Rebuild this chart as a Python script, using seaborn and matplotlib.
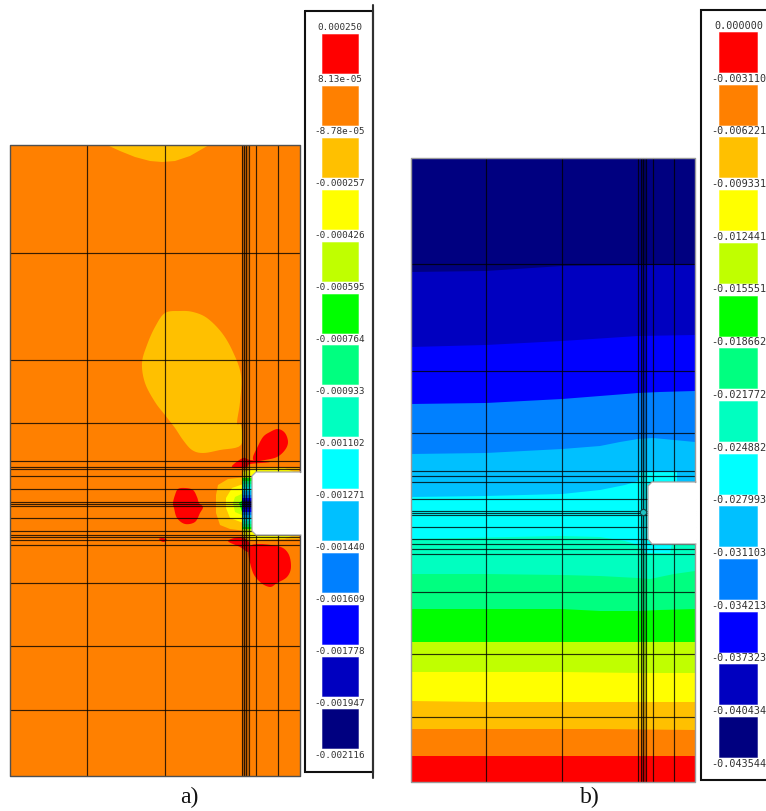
import numpy as np
import pandas as pd
import matplotlib
matplotlib.use("Agg")
import matplotlib.pyplot as plt
import seaborn as sns

# ---------- colour scale (shared by both plots, top of the legend first)
band_colors = ["#ff0000", "#ff8000", "#ffc000", "#ffff00", "#c0ff00", "#00ff00", "#00ff80",
               "#00ffc0", "#00ffff", "#00c0ff", "#0080ff", "#0000ff", "#0000c0", "#000080"]
RED, ORANGE, AMBER, YELLOW, LIME, GREEN, SPRING, AQUA, CYAN, SKY, AZURE, BLUE, DBLUE, NAVY = band_colors

labels_a = ["0.000250", "8.13e-05", "-8.78e-05", "-0.000257", "-0.000426", "-0.000595", "-0.000764",
            "-0.000933", "-0.001102", "-0.001271", "-0.001440", "-0.001609", "-0.001778", "-0.001947",
            "-0.002116"]
labels_b = ["0.000000", "-0.003110", "-0.006221", "-0.009331", "-0.012441", "-0.015551", "-0.018662",
            "-0.021772", "-0.024882", "-0.027993", "-0.031103", "-0.034213", "-0.037323", "-0.040434",
            "-0.043544"]

# ---------- mesh lines (drawing units = reference pixels)
mesh_x_a = [87, 165, 242, 244, 246, 249, 256, 278]
mesh_y_a = [253, 360, 423, 461, 467, 469, 476, 489, 502, 504, 506, 518, 531, 535, 537, 540, 545, 583, 646, 710]
mesh_x_b = [486, 562, 638, 641, 643, 646, 653, 674]
mesh_y_b = [264, 371, 433, 471, 476, 482, 499, 511, 513, 515, 527, 539, 544, 549, 554, 592, 654, 717]

# ---------- plot a: contour regions, as outlines
top_lobe = [(107, 145), (120, 151), (135, 157), (150, 161), (162, 162), (175, 161), (190, 156), (209, 145)]
mid_lobe = [(180, 311), (165, 313), (155, 327), (147, 345), (142, 363), (145, 383), (155, 402), (165, 415),
            (175, 428), (183, 440), (192, 450), (203, 453), (220, 450), (241, 445), (241, 425), (237, 423),
            (240, 402), (241, 375), (233, 352), (222, 333), (207, 318), (193, 312)]
red_regions = [
    [(278, 429), (285, 433), (288, 442), (285, 450), (277, 457), (265, 460), (255, 461), (253, 457),
     (257, 448), (263, 437), (270, 432)],
    [(232, 466), (243, 458), (250, 460), (270, 462), (250, 464), (247, 467), (237, 468)],
    [(250, 546), (277, 546), (288, 553), (291, 567), (287, 577), (277, 583), (270, 587), (260, 582), (252, 570)],
    [(228, 541), (240, 537), (248, 541), (250, 546), (248, 552), (240, 547)],
    [(185, 488), (193, 490), (197, 497), (199, 503), (203, 507), (200, 513), (195, 522), (185, 524),
     (177, 518), (174, 508), (173, 503), (175, 495), (178, 489)],
    [(159, 539), (163, 538), (167, 540), (163, 542)],
]
notch_amber = [(246, 477), (228, 479), (218, 485), (216, 495), (216, 513), (220, 525), (230, 529), (246, 531)]
notch_yellow = [(246, 483), (232, 488), (226, 498), (226, 508), (230, 518), (246, 524)]
notch_lime = [(246, 492), (235, 497), (233, 503), (235, 512), (246, 517)]
notch_green = [(246, 497), (239, 503), (242, 512), (246, 512)]
edge_amber = [[(248, 467), (262, 467), (299, 468), (299, 472), (252, 478), (243, 478), (243, 470)],
              [(243, 530), (252, 530), (258, 535), (299, 535), (299, 539), (262, 540), (248, 540), (243, 537)]]
edge_yellow = [[(243, 472), (256, 469), (285, 468.5), (294, 472), (256, 473), (252, 478), (243, 478)],
               [(243, 530), (252, 530), (256, 535), (294, 535), (285, 538.5), (256, 539), (243, 536)]]

strip_edges_a = [476, 478, 481, 484, 487, 491, 495, 498, 500, 501, 507, 509, 512, 515, 518, 521, 524, 527, 529, 532]
strip_colors_a = [LIME, GREEN, SPRING, AQUA, CYAN, SKY, AZURE, BLUE, DBLUE, NAVY, DBLUE, BLUE, AZURE, SKY, CYAN,
                  AQUA, SPRING, GREEN, LIME]

# ---------- plot b: band boundaries from the top downward
bands_b = [
    (DBLUE, [(411, 272), (486, 271), (562, 266), (638, 265), (695, 265)]),
    (BLUE, [(411, 347), (486, 345), (562, 341), (638, 336), (695, 335)]),
    (AZURE, [(411, 404), (486, 403), (562, 399), (638, 393), (660, 392), (695, 391)]),
    (SKY, [(411, 454), (486, 453), (562, 449), (600, 446), (620, 442), (638, 439), (653, 438), (674, 440), (695, 442)]),
    (CYAN, [(411, 497), (486, 496), (562, 494), (600, 490), (625, 485), (638, 481), (640, 472), (677, 472),
            (677, 482), (695, 482)]),
    (AQUA, [(411, 539), (486, 537.5), (562, 536), (600, 537), (625, 541), (638, 545), (645, 553), (670, 553),
            (672, 544), (695, 544)]),
    (SPRING, [(411, 574), (486, 574), (562, 575), (600, 576), (638, 578), (650, 579), (674, 574), (695, 571)]),
    (GREEN, [(411, 609), (486, 609), (562, 609), (600, 611), (638, 611), (660, 610), (695, 609)]),
    (LIME, [(411, 642), (695, 642)]),
    (YELLOW, [(411, 672), (562, 672), (638, 673), (695, 673)]),
    (AMBER, [(411, 701), (486, 702), (695, 702)]),
    (ORANGE, [(411, 729), (600, 729), (695, 730)]),
    (RED, [(411, 756), (695, 756)]),
]

# ---------- panel geometry
outer_a = [(300, 472), (300, 145), (10, 145), (10, 776), (300, 776), (300, 535)]
notch_a = [(301, 472), (256, 472), (252, 476), (252, 531), (256, 535), (301, 535)]
outer_b = [(695, 482), (695, 158), (411, 158), (411, 782), (695, 782), (695, 544)]
notch_b = [(696, 482), (652, 482), (648, 486), (648, 539), (652, 544), (696, 544)]


def smooth(points, steps=6):
    """Closed curve through the read outline points (Catmull-Rom)."""
    p = np.asarray(points, float)
    p0, p1, p2, p3 = np.roll(p, 1, axis=0), p, np.roll(p, -1, axis=0), np.roll(p, -2, axis=0)
    out = []
    for t in np.linspace(0, 1, steps, endpoint=False):
        out.append(0.5 * (2 * p1 + (p2 - p0) * t + (2 * p0 - 5 * p1 + 4 * p2 - p3) * t ** 2
                          + (3 * p1 - p0 - 3 * p2 + p3) * t ** 3))
    return np.stack(out, axis=1).reshape(-1, 2)


def mesh_frame(xs, ys, box, panel):
    left, top, right, bottom = box
    rows = []
    for i, x in enumerate(xs):
        rows += [dict(x=x, y=top, u=f"{panel}v{i}"), dict(x=x, y=bottom, u=f"{panel}v{i}")]
    for i, y in enumerate(ys):
        rows += [dict(x=left, y=y, u=f"{panel}h{i}"), dict(x=right, y=y, u=f"{panel}h{i}")]
    return pd.DataFrame(rows)


sns.set_style("white")
fig = plt.figure(figsize=(7.66, 8.11), dpi=100, facecolor="white")
ax = fig.add_axes([0, 0, 1, 1])
ax.set_xlim(0, 766)
ax.set_ylim(811, 0)
ax.axis("off")


def fill(points, color, z=1.0):
    pts = np.asarray(points, float)
    ax.fill(pts[:, 0], pts[:, 1], color=color, lw=0, zorder=z)


# ---------- plot a fields
fill([(10, 145), (300, 145), (300, 776), (10, 776)], ORANGE, 1)
fill(smooth(mid_lobe), AMBER, 1.1)
fill(top_lobe, AMBER, 1.1)
for region in red_regions:
    fill(smooth(region), RED, 1.2)
for region in edge_amber:
    fill(region, AMBER, 1.15)
for region in edge_yellow:
    fill(region, YELLOW, 1.18)
fill(notch_amber, AMBER, 1.3)
fill(notch_yellow, YELLOW, 1.4)
fill(notch_lime, LIME, 1.5)
fill(notch_green, GREEN, 1.6)
ax.barh(y=np.array(strip_edges_a[:-1]), width=10, height=np.diff(strip_edges_a), left=242,
        align="edge", color=strip_colors_a, lw=0, zorder=1.7)

# ---------- plot b fields
fill([(411, 158), (695, 158), (695, 782), (411, 782)], NAVY, 1)
for i, (color, boundary) in enumerate(bands_b):
    fill(list(boundary) + [(695, 782), (411, 782)], color, 1 + 0.01 * i)

# ---------- denser mesh strips
ax.fill_between([242, 249], 145, 776, color="black", alpha=0.22, lw=0, zorder=2)
ax.fill_between([641, 646], 158, 782, color="black", alpha=0.25, lw=0, zorder=2)

# ---------- mesh
mesh = pd.concat([mesh_frame(mesh_x_a, mesh_y_a, (10, 145, 300, 776), "a"),
                  mesh_frame(mesh_x_b, mesh_y_b, (411, 158, 695, 782), "b")], ignore_index=True)
sns.lineplot(data=mesh, x="x", y="y", units="u", estimator=None, sort=False, color="black",
             lw=0.85, alpha=0.78, ax=ax, legend=False, zorder=3)
ax.set_xlim(0, 766)
ax.set_ylim(811, 0)
ax.plot([643], [512], marker="o", ms=4.5, mfc="#20c0c0", mec="#104040", mew=0.8, zorder=3.2)

# ---------- notches and outlines
fill(notch_a, "white", 4)
fill(notch_b, "white", 4)
for outer, notch, dark in [(outer_a, notch_a, "#505050"), (outer_b, notch_b, "#9a9a9a")]:
    o, n = np.asarray(outer), np.asarray(notch)
    ax.plot(o[:, 0], o[:, 1], color=dark, lw=1.0, zorder=5)
    ax.plot(n[:, 0], n[:, 1], color="#a8a8a8", lw=0.9, zorder=5)

# ---------- legends


def legend(first_top, pitch, height, left, right, labels, label_first, label_pitch, text_x, size):
    tops = first_top + pitch * np.arange(len(band_colors))
    ax.bar(x=left, height=height, width=right - left, bottom=tops, align="edge", color=band_colors,
           edgecolor=[matplotlib.colors.to_rgba(c, 0.55) for c in band_colors], lw=0.6, zorder=2)
    for i, text in enumerate(labels):
        ax.text(text_x, label_first + label_pitch * i, text, family="DejaVu Sans Mono", fontsize=size,
                ha="center", va="center", color="#303030", zorder=6)


legend(34, 51.9, 39, 322, 358, labels_a, 28, 52.0, 340, 6.7)
legend(32, 52.7, 40, 719, 757, labels_b, 26, 52.7, 739, 7.3)

ax.plot([305, 373, 373, 305, 305], [11, 11, 772, 772, 11], color="#101010", lw=1.5, zorder=5,
        solid_joinstyle="miter")
ax.plot([373, 373], [5, 778], color="#303030", lw=1.5, zorder=5)
ax.plot([770, 701, 701, 770], [9.5, 9.5, 780, 780], color="#101010", lw=1.5, zorder=5,
        solid_joinstyle="miter")

ax.text(189, 797, "a)", family="Liberation Serif", fontsize=17, ha="center", va="center", color="#111111")
ax.text(590, 797, "b)", family="Liberation Serif", fontsize=17, ha="center", va="center", color="#111111")

fig.savefig("out.png", dpi=100, facecolor="white")
